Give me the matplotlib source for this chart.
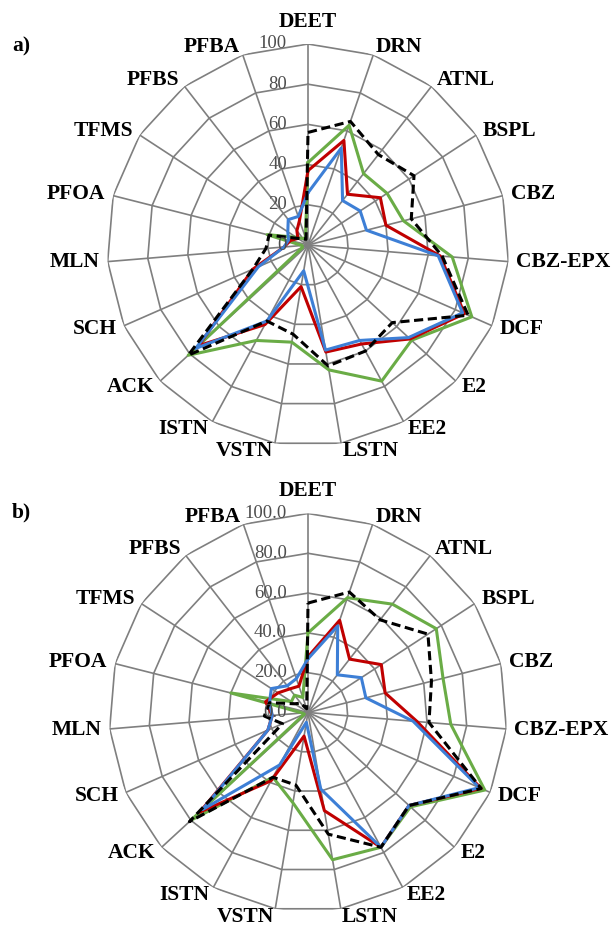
import numpy as np
import matplotlib
matplotlib.use('Agg')
import matplotlib.pyplot as plt
from matplotlib.transforms import offset_copy

categories = ['DEET', 'DRN', 'ATNL', 'BSPL', 'CBZ', 'CBZ-EPX', 'DCF', 'E2', 'EE2', 'LSTN',
              'VSTN', 'ISTN', 'ACK', 'SCH', 'MLN', 'PFOA', 'TFMS', 'PFBS', 'PFBA']

# panel a)
a_black = [56, 65, 57, 63, 53, 67, 87, 57, 60, 61, 45, 43, 81, 30, 21, 20, 6, 4, 3]
a_green = [41, 63, 45, 47, 49, 72, 89, 70, 77, 63, 49, 54, 81, 3, 3, 21, 7, 4, 4]
a_red = [37, 55, 32, 43, 40, 66, 85, 69, 56, 54, 21, 45, 74, 30, 12, 9, 6, 9, 13]
a_blue = [26, 51, 28, 31, 30, 65, 84, 68, 54, 53, 13, 43, 76, 27, 12, 10, 12, 16, 15]

# panel b)
b_black = [55, 64, 59, 72, 64, 61, 95, 69, 77, 62, 37, 37, 81, 14, 22, 20, 8, 6, 2]
b_green = [40, 61, 69, 77, 70, 72, 97, 70, 77, 75, 46, 37, 80, 2, 3, 40, 10, 11, 8]
b_red = [28, 49, 34, 44, 40, 55, 95, 69, 77, 50, 12, 39, 74, 22, 18, 22, 18, 15, 14]
b_blue = [27, 46, 24, 32, 30, 53, 94, 69, 77, 39, 5, 30, 72, 22, 18, 20, 22, 17, 18]

a_ticks = ['0', '20', '40', '60', '80', '100']
b_ticks = ['0.0', '20.0', '40.0', '60.0', '80.0', '100.0']
levels = [0, 20, 40, 60, 80, 100]

GRID = '#7f7f7f'
SERIF = 'Liberation Serif'

fig = plt.figure(figsize=(6.14, 9.26), dpi=100)


def radar(ax, black, green, red, blue, ticks):
    n = len(categories)
    theta = np.arange(n) * 2 * np.pi / n
    closed = np.append(theta, theta[0])
    ax.set_theta_zero_location('N')
    ax.set_theta_direction(-1)
    ax.set_ylim(0, 100)
    ax.grid(False)
    ax.spines['polar'].set_visible(False)
    ax.set_xticks([])
    ax.set_yticks([])

    # polygon gridlines like an Excel radar chart
    for lvl in levels[1:]:
        ax.plot(closed, [lvl] * (n + 1), color=GRID, lw=1.2, zorder=1)
    for t in theta:
        ax.plot([t, t], [0, 100], color=GRID, lw=1.2, zorder=1)

    ax.plot(closed, np.append(green, green[0]), color='#6aac46', lw=2.2, zorder=3)
    ax.plot(closed, np.append(red, red[0]), color='#c00000', lw=2.2, zorder=3)
    ax.plot(closed, np.append(blue, blue[0]), color='#3d7fd6', lw=2.2, zorder=3)
    ax.plot(closed, np.append(black, black[0]), color='black', lw=2.2,
            ls=(0, (3, 1.5)), zorder=4)

    # value labels left of the vertical axis
    tr = offset_copy(ax.transData, fig=fig, x=-21, y=0, units='dots')
    for lvl, lbl in zip(levels, ticks):
        ax.text(0, lvl, lbl, transform=tr, ha='right', va='center', fontsize=13.5,
                color='#4d4d4d', family=SERIF, zorder=5)

    # category labels
    for t, name in zip(theta, categories):
        s, c = np.sin(t), np.cos(t)
        if name == 'DEET':
            dx, dy = 0, 22
        else:
            dx, dy = 8 * s, 8 * c
        ha = 'left' if s > 0.05 else ('right' if s < -0.05 else 'center')
        tr2 = offset_copy(ax.transData, fig=fig, x=dx, y=dy, units='dots')
        ax.text(t, 100, name, transform=tr2, ha=ha, va='center', fontsize=15.5,
                fontweight='bold', family=SERIF, clip_on=False)


ax1 = fig.add_axes([107 / 614, 1 - 446 / 926, 402 / 614, 402 / 926], projection='polar')
radar(ax1, a_black, a_green, a_red, a_blue, a_ticks)

ax2 = fig.add_axes([109 / 614, 1 - 911.5 / 926, 398 / 614, 398 / 926], projection='polar')
radar(ax2, b_black, b_green, b_red, b_blue, b_ticks)

fig.text(12 / 614, 1 - 46 / 926, 'a)', fontsize=15.5, fontweight='bold', family=SERIF,
         ha='left', va='center')
fig.text(12 / 614, 1 - 512 / 926, 'b)', fontsize=15.5, fontweight='bold', family=SERIF,
         ha='left', va='center')

fig.savefig('out.png', dpi=100, facecolor='white')
